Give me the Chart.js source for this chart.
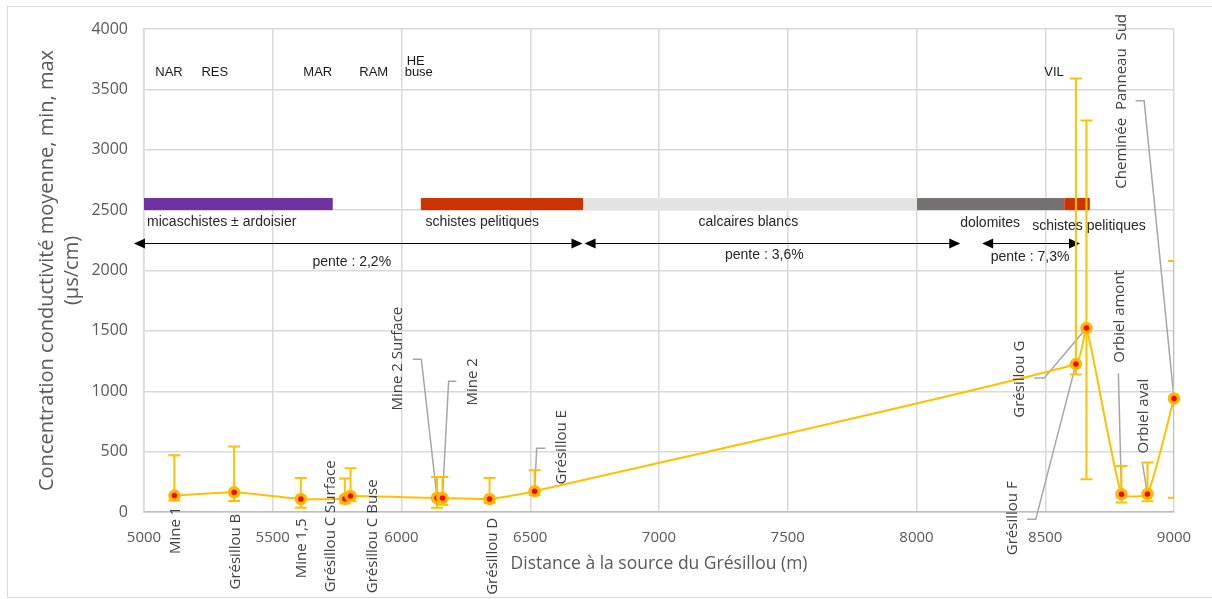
<!DOCTYPE html>
<html>
<head>
<meta charset="utf-8">
<script src="https://cdn.jsdelivr.net/npm/chart.js@4.4.1/dist/chart.umd.min.js"></script>
<style>
  body { margin: 0; background: #fff; }
  #frame { position: absolute; left: 7px; top: 6px; width: 1210px; height: 590px; border: 1px solid #d9d9d9; }
  #wrap { position: absolute; left: 0; top: 0; width: 1212px; height: 599px; }
</style>
</head>
<body>
<div id="frame"></div>
<div id="wrap"><canvas id="chart" width="1212" height="599"></canvas></div>
<script>
// sampling sites along the river
const sites = ["Mine 1", "Grésillou B", "Mine 1,5", "Grésillou C Surface", "Grésillou C Buse",
  "Mine 2 Surface", "Mine 2", "Grésillou D", "Grésillou E", "Grésillou F", "Grésillou G",
  "Orbiel amont", "Orbiel aval", "Cheminée  Panneau  Sud"];
const distance = [5118, 5350, 5609, 5780, 5802, 6138, 6159, 6342, 6517, 8619, 8660, 8796, 8897, 9000];
const meanCond = [136, 163, 108, 110, 133, 116, 116, 108, 172, 1225, 1523, 147, 149, 940];
const minCond  = [95, 91, 36, 70, 89, 36, 61, 75, 140, 1139, 271, 78, 89, 119];
const maxCond  = [470, 542, 282, 277, 362, 290, 290, 282, 346, 3590, 3242, 381, 410, 2079];

// where each site name sits (distance, conductivity units) and its leader elbows
const siteLabelX = [5124, 5357, 5613, 5726, 5887, 5987, 6275, 6354, 6624, 8375, 8399, 8788, 8884, 8797];
const siteLabelY = [-152, -328, -301, -119, -201, 1270, 1078, -367, 536, -52, 1100, 1620, 794, 3401];
const leaders = [null, null, null, null, null,
  [[6044, 1266], [6077, 1266]],
  [[6213, 1083], [6183, 1083]],
  null,
  [[6559, 528], [6525, 528]],
  [[8430, -61], [8463, -61]],
  [[8457, 1109], [8496, 1109]],
  [[8784, 1150]],
  [[8877, 406]],
  [[8851, 3406], [8884, 3406]]];

// hamlets / features named along the top
const places = ["NAR", "RES", "MAR", "RAM", "HE", "buse", "VIL"];
const placeX = [5097, 5275, 5675, 5892, 6055, 6067, 8534];
const placeY = [3638, 3638, 3638, 3638, 3729, 3638, 3638];

// geology along the profile
const geolNames = ["micaschistes ± ardoisier", "schistes pelitiques", "calcaires blancs", "dolomites", "schistes pelitiques"];
const geolStart = [5000, 6075, 6705, 8002, 8574];
const geolEnd   = [5733, 6705, 8002, 8574, 8673];
const geolLabelX = [5012, 6093, 7347, 8286, 8670];
const geolLabelY = [2402, 2402, 2402, 2396, 2371];
const geolColors = ["#7030a0", "#cc3300", "#e3e3e3", "#767171", "#cc3300"];

// slopes
const slopeLabels = ["pente : 2,2%", "pente : 3,6%", "pente : 7,3%"];
const slopeStart = [4961, 6711, 8255];
const slopeEnd   = [6703, 8170, 8635];
const slopeLevel = 2228;
const slopeLabelX = [5807, 7409, 8441];
const slopeLabelY = [2073, 2127, 2114];

const xTicks = [5000, 5500, 6000, 6500, 7000, 7500, 8000, 8500, 9000];

const calibri = "'Open Sans', sans-serif";
const arial = "'Liberation Sans', Arial, sans-serif";

function arrowHead(ctx, px, py, dir) {
  ctx.beginPath();
  ctx.moveTo(px, py);
  ctx.lineTo(px - dir * 11, py - 5);
  ctx.lineTo(px - dir * 11, py + 5);
  ctx.closePath();
  ctx.fill();
}

const annotations = {
  id: "annotations",
  beforeDatasetsDraw(chart) {
    const { ctx, chartArea: a, scales: { x, y } } = chart;
    ctx.save();
    // geology bars
    const top = y.getPixelForValue(2600), bot = y.getPixelForValue(2500);
    for (let i = 0; i < geolStart.length; i++) {
      ctx.fillStyle = geolColors[i];
      const x0 = x.getPixelForValue(geolStart[i]), x1 = x.getPixelForValue(geolEnd[i]);
      ctx.fillRect(x0, top, x1 - x0, bot - top);
    }
    // slope arrows
    ctx.strokeStyle = "#000";
    ctx.fillStyle = "#000";
    ctx.lineWidth = 1;
    const ay = Math.round(y.getPixelForValue(slopeLevel)) + 0.5;
    for (let i = 0; i < slopeStart.length; i++) {
      const x0 = x.getPixelForValue(slopeStart[i]), x1 = x.getPixelForValue(slopeEnd[i]);
      ctx.beginPath();
      ctx.moveTo(x0 + 4, ay);
      ctx.lineTo(x1 - 4, ay);
      ctx.stroke();
      arrowHead(ctx, x0, ay, -1);
      arrowHead(ctx, x1, ay, 1);
    }
    // leader lines
    ctx.strokeStyle = "#a6a6a6";
    ctx.lineWidth = 1.5;
    leaders.forEach((pts, i) => {
      if (!pts) return;
      ctx.beginPath();
      pts.forEach((p, k) => {
        const px = x.getPixelForValue(p[0]), py = y.getPixelForValue(p[1]);
        if (k === 0) ctx.moveTo(px, py); else ctx.lineTo(px, py);
      });
      ctx.lineTo(x.getPixelForValue(distance[i]), y.getPixelForValue(meanCond[i]));
      ctx.stroke();
    });
    // error bars (min / max)
    ctx.beginPath();
    ctx.rect(a.left, a.top - 2, a.right - a.left, a.bottom - a.top + 2);
    ctx.clip();
    ctx.strokeStyle = "#ffc000";
    ctx.lineWidth = 2;
    for (let i = 0; i < distance.length; i++) {
      const px = x.getPixelForValue(distance[i]);
      const pMin = y.getPixelForValue(minCond[i]), pMax = y.getPixelForValue(maxCond[i]);
      ctx.beginPath();
      ctx.moveTo(px, pMin); ctx.lineTo(px, pMax);
      ctx.moveTo(px - 6, pMin); ctx.lineTo(px + 6, pMin);
      ctx.moveTo(px - 6, pMax); ctx.lineTo(px + 6, pMax);
      ctx.stroke();
    }
    ctx.restore();
  },
  afterDraw(chart) {
    const { ctx, scales: { x, y } } = chart;
    ctx.save();
    ctx.textBaseline = "middle";
    // place names
    ctx.fillStyle = "#1a1a1a";
    ctx.font = "13px " + arial;
    ctx.textAlign = "center";
    places.forEach((t, i) => ctx.fillText(t, x.getPixelForValue(placeX[i]), y.getPixelForValue(placeY[i])));
    // geology names
    ctx.font = "14px " + arial;
    ctx.fillStyle = "#262626";
    geolNames.forEach((t, i) => {
      ctx.textAlign = i < 2 ? "left" : "center";
      ctx.fillText(t, x.getPixelForValue(geolLabelX[i]), y.getPixelForValue(geolLabelY[i]));
    });
    ctx.textAlign = "center";
    slopeLabels.forEach((t, i) => ctx.fillText(t, x.getPixelForValue(slopeLabelX[i]), y.getPixelForValue(slopeLabelY[i])));
    // site names, rotated
    ctx.fillStyle = "#404040";
    ctx.font = "15px " + calibri;
    sites.forEach((t, i) => {
      ctx.save();
      ctx.translate(x.getPixelForValue(siteLabelX[i]), y.getPixelForValue(siteLabelY[i]));
      ctx.rotate(-Math.PI / 2);
      ctx.fillText(t, 0, 0);
      ctx.restore();
    });
    ctx.restore();
  }
};

new Chart(document.getElementById("chart"), {
  type: "scatter",
  data: {
    datasets: [{
      label: "Conductivité moyenne",
      data: distance.map((d, i) => ({ x: d, y: meanCond[i] })),
      showLine: true,
      borderColor: "#ffc000",
      borderWidth: 2,
      tension: 0.15,
      pointRadius: 4.5,
      pointBorderWidth: 3.5,
      pointBorderColor: "#ffb700",
      pointBackgroundColor: "#ff0000",
      clip: false
    }]
  },
  options: {
    responsive: false,
    animation: false,
    layout: { padding: { left: 35, top: 29, right: 38, bottom: 20 } },
    plugins: { legend: { display: false }, tooltip: { enabled: false } },
    scales: {
      x: {
        type: "linear",
        min: 5000, max: 9000,
        afterBuildTicks: (s) => { s.ticks = xTicks.map(v => ({ value: v })); },
        afterFit: (s) => { s.height = 67; },
        grid: { color: "#d9d9d9", lineWidth: 1.5, drawTicks: false },
        border: { color: "#bfbfbf", width: 1.5 },
        ticks: { color: "#595959", font: { family: calibri, size: 15 }, padding: 17, maxRotation: 0,
          callback: (v) => String(v) },
        title: {
          display: true, text: "Distance à la source du Grésillou (m)",
          color: "#595959", font: { family: calibri, size: 17.5 }, padding: { top: 0, bottom: 4 }
        }
      },
      y: {
        min: 0, max: 4000,
        ticks: { stepSize: 500, color: "#595959", font: { family: calibri, size: 16 }, padding: 16,
          callback: (v) => String(v) },
        afterFit: (s) => { s.width = 109; },
        grid: { color: "#d9d9d9", lineWidth: 1.5, drawTicks: false },
        border: { color: "#d9d9d9", width: 1.5 },
        title: {
          display: true, text: ["Concentration conductivité moyenne, min, max", "(µs/cm)"],
          color: "#595959", font: { family: calibri, size: 20, lineHeight: 1.25 }, padding: 0
        }
      }
    }
  },
  plugins: [annotations]
});
</script>
</body>
</html>
